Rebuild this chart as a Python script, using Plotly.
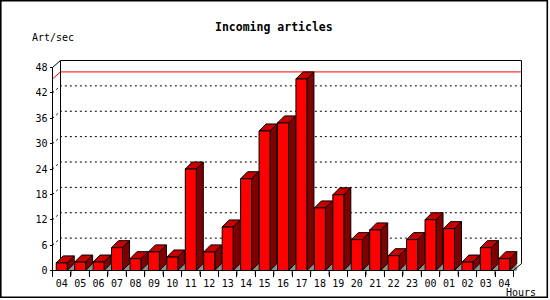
import plotly.graph_objects as go

# ---------------- data ----------------
hours = ["04", "05", "06", "07", "08", "09", "10", "11", "12", "13", "14", "15", "16",
         "17", "18", "19", "20", "21", "22", "23", "00", "01", "02", "03", "04"]
rate = [1.8, 2.0, 2.0, 5.4, 2.8, 4.4, 3.2, 24.0, 4.4, 10.3, 21.7, 33.0, 34.9,
        45.3, 14.8, 17.9, 7.3, 9.6, 3.5, 7.3, 12.0, 9.9, 2.0, 5.4, 2.8]
y_ticks = [0, 6, 12, 18, 24, 30, 36, 42, 48]
title = "Incoming articles"
y_title = "Art/sec"
x_title = "Hours"

# ---------------- geometry (pixels) ----------------
W, H = 550, 300
ML, MR, MT, MB = 40, 20, 50, 20
PW, PH = W - ML - MR, H - MT - MB
FX0, FX1 = 52.5, 513.5          # front x axis ends
FY0, FYT = 270.5, 67.5          # front y of 0 and of top tick
n = len(hours)
ymax = y_ticks[-1]
upx = (FX1 - FX0) / n
upy = (FY0 - FYT) / ymax


def xv(px):
    return -0.5 + (px - FX0) / upx


def yv(py):
    return (FY0 - py) / upy


def pxp(px):
    return (px - ML) / PW


def pyp(py):
    return (H - MB - py) / PH


dxa, dya = 8 / upx, 7 / upy      # axis depth
dxb, dyb = 7 / upx, 7 / upy      # bar depth
bw = 11 / upx                    # bar width
xl, xr = -0.5, n - 0.5

fig = go.Figure()


def poly(xs, ys, fill=None, color="black", width=1, dash="solid"):
    fig.add_trace(go.Scatter(
        x=xs, y=ys, mode="lines",
        line=dict(color=color, width=width, dash=dash),
        fill="toself" if fill else None, fillcolor=fill,
        hoverinfo="skip", showlegend=False))


# back grid lines (dotted)
for v in y_ticks[1:-1]:
    poly([xl, xl + dxa, xr + dxa], [v, v + dya, v + dya], dash="2px,3px")

# max line (red)
vmax = max(rate)
poly([xl, xl + dxa, xr + dxa], [vmax, vmax + dya, vmax + dya], color="#FF0000")

# back frame
poly([xl + dxa, xl + dxa, xr + dxa, xr + dxa],
     [dya, ymax + dya, ymax + dya, dya])
poly([xl, xl + dxa], [ymax, ymax + dya])

# bars
for i, v in enumerate(rate):
    a, b = i - bw / 2, i + bw / 2
    # floor shadow
    poly([b, b + dxb, b + dxb, b], [0, 0, dyb, 0], fill="#909090", width=0.5, color="#909090")
    # side face
    poly([b, b + dxb, b + dxb, b, b], [0, dyb, v + dyb, v, 0], fill="#800000")
    # top face
    poly([a, a + dxb, b + dxb, b, a], [v, v + dyb, v + dyb, v, v], fill="#C80000")
    # front face
    poly([a, a, b, b, a], [0, v, v, 0, 0], fill="#FF0000")

# front axes
poly([xl, xl], [0, ymax])
poly([xl, xr, xr + dxa], [0, 0, dya])

# x tick marks at category boundaries
tx, ty = [], []
for k in range(n + 1):
    tx += [k - 0.5, k - 0.5, None]
    ty += [0, -5 / upy, None]
poly(tx, ty)

fig.update_layout(
    width=W, height=H,
    margin=dict(l=ML, r=MR, t=MT, b=MB, autoexpand=False),
    paper_bgcolor="white", plot_bgcolor="white",
    font=dict(family="DejaVu Sans Mono", size=10, color="black"),
    xaxis=dict(
        range=[xv(ML), xv(W - MR)],
        anchor="free", position=pyp(FY0), automargin=False,
        tickmode="array", tickvals=list(range(n)), ticktext=hours,
        ticks="outside", ticklen=0, tickcolor="black",
        showgrid=False, zeroline=False, showline=False,
        ticklabelstandoff=3,
        tickfont=dict(family="DejaVu Sans Mono", size=10, color="black"),
        minor=dict(tickmode="array", tickvals=[k - 0.5 for k in range(n + 1)],
                   ticks="outside", ticklen=5, tickcolor="black", tickwidth=1,
                   showgrid=False),
    ),
    yaxis=dict(
        range=[yv(H - MB), yv(MT)],
        anchor="free", position=pxp(FX0), automargin=False,
        tickmode="array", tickvals=y_ticks,
        ticks="outside", ticklen=3, tickcolor="black", tickwidth=1,
        showgrid=False, zeroline=False, showline=False,
        tickfont=dict(family="DejaVu Sans Mono", size=10, color="black"),
    ),
    shapes=[dict(type="rect", xref="paper", yref="paper",
                 x0=pxp(0.8), x1=pxp(547.3), y0=pyp(0.6), y1=pyp(297.3),
                 line=dict(color="black", width=1.6), fillcolor="rgba(0,0,0,0)")],
    annotations=[
        dict(text=f"<b>{title}</b>", xref="paper", yref="paper",
             x=pxp(274), y=pyp(27), xanchor="center", yanchor="middle",
             showarrow=False, font=dict(family="DejaVu Sans Mono", size=11.5)),
        dict(text=y_title, xref="paper", yref="paper",
             x=pxp(30), y=pyp(37), xanchor="left", yanchor="middle",
             showarrow=False, font=dict(family="DejaVu Sans Mono", size=10)),
        dict(text=x_title, xref="paper", yref="paper",
             x=pxp(504), y=pyp(292), xanchor="left", yanchor="middle",
             showarrow=False, font=dict(family="DejaVu Sans Mono", size=10)),
    ],
)

fig.write_html("out.html")
